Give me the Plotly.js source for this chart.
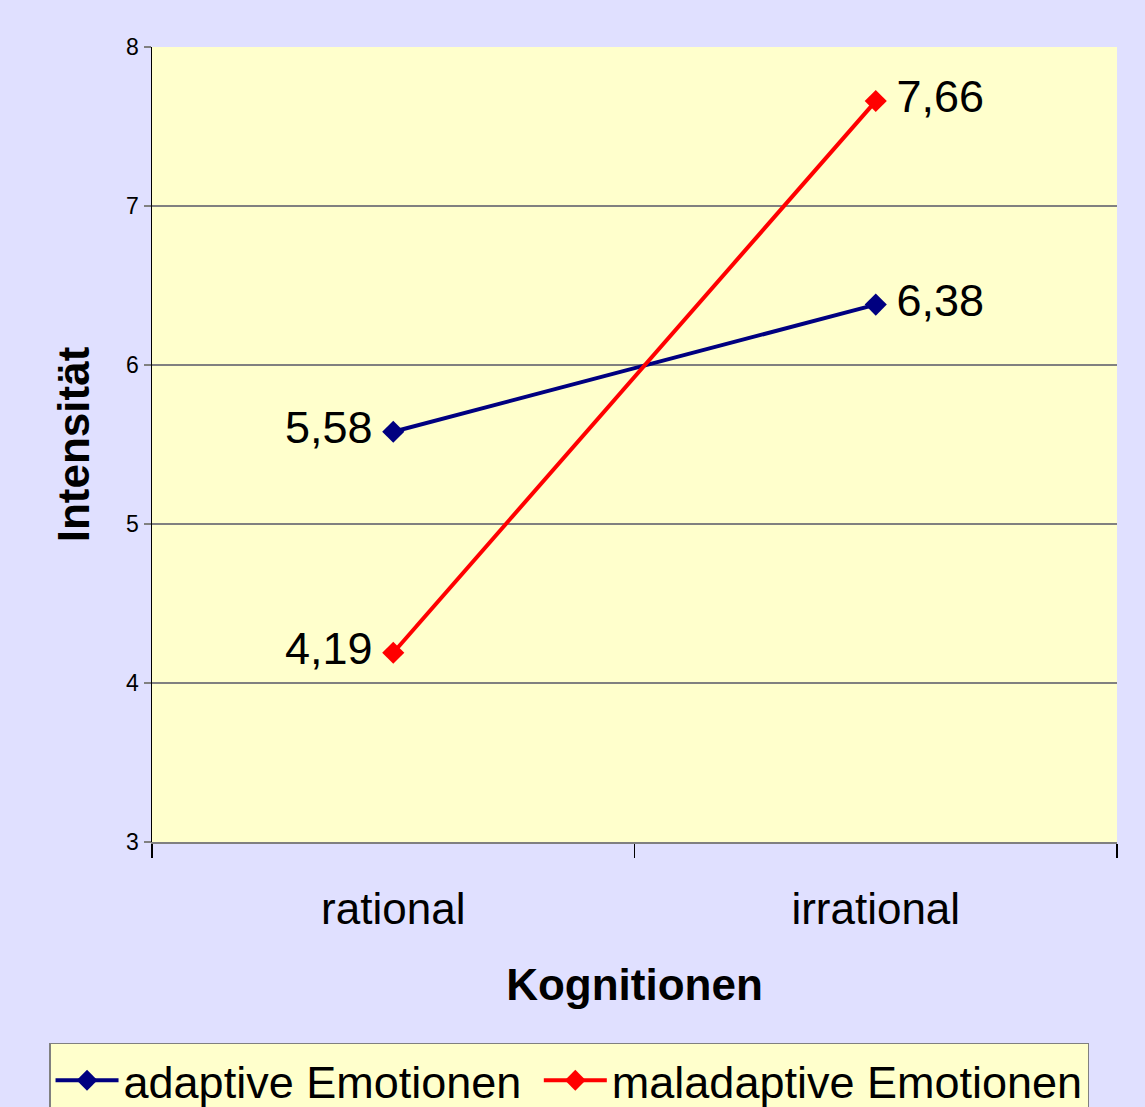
<!DOCTYPE html>
<html>
<head>
<meta charset="utf-8">
<script src="https://cdn.plot.ly/plotly-3.0.1.min.js"></script>
<style>html,body{margin:0;padding:0;background:#E0E0FF;}</style>
</head>
<body>
<div id="chart" style="width:1145px;height:1107px;"></div>
<script>
const categories = ["rational", "irrational"];
const adaptive = [5.58, 6.38];
const maladaptive = [4.19, 7.66];
const seriesNames = ["adaptive Emotionen", "maladaptive Emotionen"];
const yTicks = [3, 4, 5, 6, 7, 8];

const FONT = "Arial, 'Liberation Sans', sans-serif";
const labelPos = ["middle left", "middle right"];
const labelTpl = ["%{y:.2f}\u2009", "\u2009%{y:.2f}"];

const traces = [
  {
    x: categories, y: adaptive, name: seriesNames[0] + "\u00A0", type: "scatter", mode: "lines+markers+text",
    line: {color: "#000080", width: 4},
    marker: {symbol: "diamond", size: 17, color: "#000080"},
    texttemplate: labelTpl, textposition: labelPos,
    textfont: {family: FONT, size: 45, color: "#000000"},
    cliponaxis: false
  },
  {
    x: categories, y: maladaptive, name: seriesNames[1], type: "scatter", mode: "lines+markers+text",
    line: {color: "#FF0000", width: 4},
    marker: {symbol: "diamond", size: 17, color: "#FF0000"},
    texttemplate: labelTpl, textposition: labelPos,
    textfont: {family: FONT, size: 45, color: "#000000"},
    cliponaxis: false
  }
];

const layout = {
  width: 1145, height: 1107,
  margin: {l: 152, r: 28, t: 47, b: 265, autoexpand: false},
  paper_bgcolor: "#E0E0FF",
  plot_bgcolor: "#FFFFCC",
  separators: ",.",
  font: {family: FONT, color: "#000000"},
  showlegend: true,
  xaxis: {
    type: "category",
    range: [-0.5, 1.5],
    tickson: "boundaries",
    ticks: "outside", ticklen: 14, tickwidth: 1.5, tickcolor: "#000000",
    ticklabelstandoff: 27,
    tickfont: {family: FONT, size: 44, color: "#000000"},
    showgrid: false,
    showline: true, linecolor: "#808080", linewidth: 2,
    zeroline: false,
    automargin: false,
    title: {text: "<b>Kognitionen</b>", font: {family: FONT, size: 44, color: "#000000"}, standoff: 37},
    fixedrange: true
  },
  yaxis: {
    range: [3, 8],
    tickvals: yTicks,
    ticks: "outside", ticklen: 7, tickwidth: 1.5, tickcolor: "#808080",
    tickfont: {family: FONT, size: 23, color: "#000000"},
    showgrid: true, gridcolor: "#808080", gridwidth: 1.5,
    showline: true, linecolor: "#000000", linewidth: 1.5,
    zeroline: false,
    automargin: false,
    title: {text: "<b>Intensität</b>", font: {family: FONT, size: 44, color: "#000000"}, standoff: 22},
    fixedrange: true
  },
  legend: {
    orientation: "h",
    x: -0.1067, xanchor: "left",
    y: -0.2528, yanchor: "top",
    bgcolor: "#FFFFCC",
    bordercolor: "#808080", borderwidth: 1.5,
    font: {family: FONT, size: 45, color: "#000000"},
    itemwidth: 63,
    tracegroupgap: 0
  }
};

Plotly.newPlot("chart", traces, layout, {displayModeBar: false, staticPlot: true});
</script>
</body>
</html>
